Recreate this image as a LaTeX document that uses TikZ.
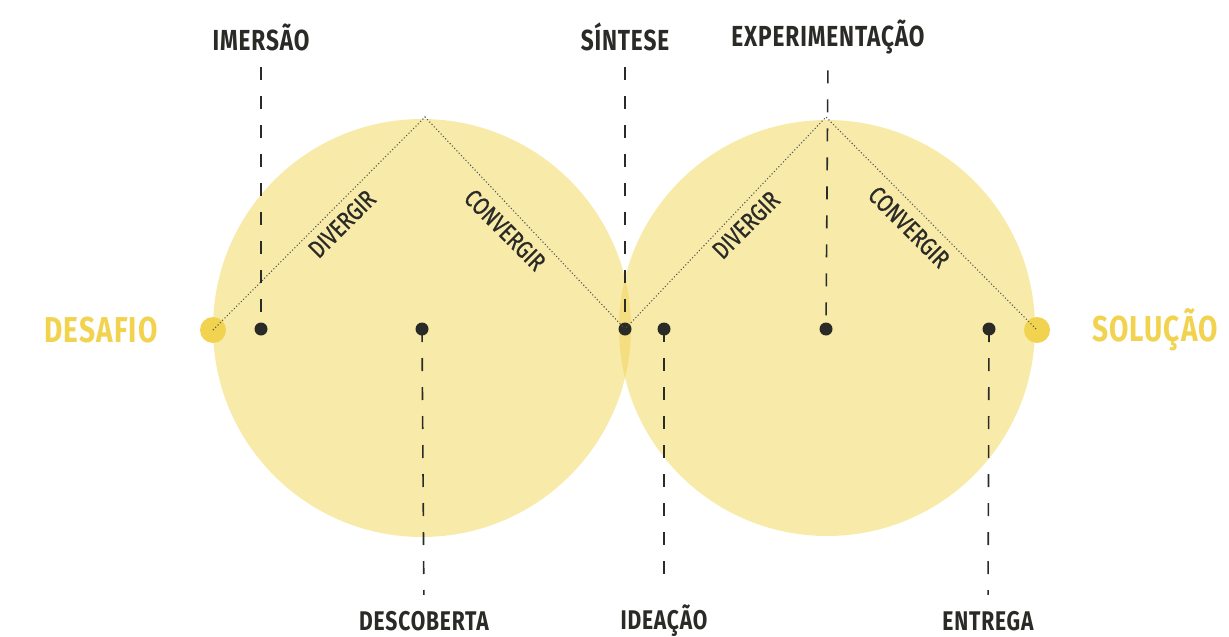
\documentclass[tikz,border=0pt]{standalone}
\usepackage{fontspec}
\newfontfamily\labfont[FakeStretch=0.78,LetterSpace=3]{Fira Sans}
\newfontfamily\rotfont[FakeStretch=0.8,FakeBold=0.6]{Fira Sans}
\definecolor{circ}{HTML}{F8EBAA}
\definecolor{lensc}{HTML}{F5DE80}
\definecolor{yel}{HTML}{F2D350}
\definecolor{ink}{HTML}{2A2A26}
\begin{document}
\begin{tikzpicture}[x=1pt,y=-1pt,
  toplab/.style={font=\labfont\bfseries\fontsize{29}{29}\selectfont, text=ink, inner sep=0pt},
  botlab/.style={font=\labfont\bfseries\fontsize{27}{27}\selectfont, text=ink, inner sep=0pt},
  endlab/.style={font=\labfont\bfseries\fontsize{36}{36}\selectfont, text=yel, inner sep=0pt},
  rotlab/.style={font=\rotfont\fontsize{25}{25}\selectfont, text=ink, inner sep=0pt},
  bdot/.style={circle, fill=ink, minimum size=13pt, inner sep=0pt},
  ydot/.style={circle, fill=yel, minimum size=26pt, inner sep=0pt},
  dashline/.style={draw=ink, line width=1.6pt, dash pattern=on 13pt off 16pt},
  dotline/.style={draw=ink!80, line width=1.1pt, dash pattern=on 1.1pt off 2.2pt}]
\useasboundingbox (0,0) rectangle (1229,637);
% circles
\fill[circ] (422,328) circle[radius=209pt];
\fill[circ] (827,328) circle[radius=208pt];
\begin{scope}
  \clip (422,328) circle[radius=209pt];
  \fill[lensc] (827,328) circle[radius=208pt];
\end{scope}
% apex coordinates
\coordinate (apexA) at (425,117);
\coordinate (apexB) at (826,117);
% dots
\node[ydot] (ydesafio) at (213,330) {};
\node[ydot] (ysolucao) at (1037,330) {};
\node[bdot] (dimersao) at (261,329) {};
\node[bdot] (ddescoberta) at (422,329) {};
\node[bdot] (dsintese) at (625,329) {};
\node[bdot] (dideacao) at (664,329) {};
\node[bdot] (dexperimentacao) at (826,329) {};
\node[bdot] (dentrega) at (989,329) {};
% dotted diamond path
\draw[dotline] (ydesafio.center) -- (apexA) -- (dsintese.center) -- (apexB) -- (ysolucao.center);
% labels
\node[toplab] (imersao) at (261,37) {IMERSÃO};
\node[toplab] (sintese) at (625,37) {SÍNTESE};
\node[toplab] (experimentacao) at (828,37) {EXPERIMENTAÇÃO};
\node[botlab] (descoberta) at (424,621) {DESCOBERTA};
\node[botlab] (ideacao) at (664,621) {IDEAÇÃO};
\node[botlab] (entrega) at (988,621) {ENTREGA};
\node[endlab] (desafio) at (101,330) {DESAFIO};
\node[endlab] (solucao) at (1155,330) {SOLUÇÃO};
\node[rotlab, rotate=45] (div1) at (342,224) {DIVERGIR};
\node[rotlab, rotate=-45] (conv1) at (505,230) {CONVERGIR};
\node[rotlab, rotate=45] (div2) at (746,225) {DIVERGIR};
\node[rotlab, rotate=-45] (conv2) at (909,227) {CONVERGIR};
% dashed connectors
\draw[dashline, shorten <=16pt] (imersao.south) -- (dimersao.center);
\draw[dashline, shorten <=16pt] (sintese.south) -- (dsintese.center);
\draw[dashline, shorten <=16pt] (experimentacao.south) -- (dexperimentacao.center);
\draw[dashline, shorten >=16pt] (ddescoberta.center) -- (descoberta.north);
\draw[dashline, shorten >=16pt] (dideacao.center) -- (ideacao.north);
\draw[dashline, shorten >=16pt] (dentrega.center) -- (entrega.north);
\end{tikzpicture}
\end{document}
